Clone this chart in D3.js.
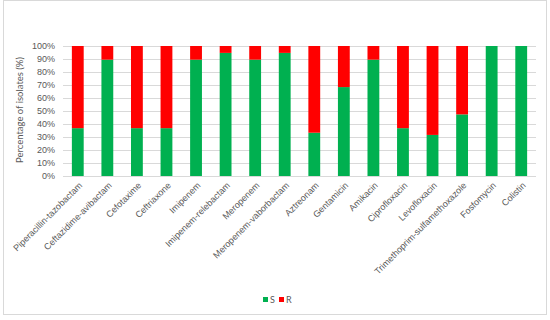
<!DOCTYPE html>
<html lang="en">
<head>
  <meta charset="UTF-8">
  <script src="https://cdn.jsdelivr.net/npm/d3@7"></script>
  <title>Susceptibility</title>
  <style>
    body { margin: 0; background: #fff; }
    svg { font-family: Lato, "Open Sans", sans-serif; }
    .grid line { stroke: #d9d9d9; stroke-width: 1; }
    .lbl { fill: #595959; }
  </style>
</head>
<body>
<div id="chart"></div>
<script>
  var drugs = ["Piperacillin-tazobactam", "Ceftazidime-avibactam", "Cefotaxime", "Ceftriaxone",
    "Imipenem", "Imipenem-relebactam", "Meropenem", "Meropenem-vaborbactam", "Aztreonam",
    "Gentamicin", "Amikacin", "Ciprofloxacin", "Levofloxacin", "Trimethoprim-sulfamethoxazole",
    "Fosfomycin", "Colistin"];
  var susceptible = [36.8, 89.5, 36.8, 36.8, 89.5, 94.7, 89.5, 94.7, 33.3, 68.4, 89.5, 36.8, 31.6, 47.4, 100, 100];
  var resistant = susceptible.map(function(s) { return 100 - s; });
  var seriesNames = ["S", "R"];
  var seriesColors = ["#00b050", "#ff0000"];
  var yTicks = [0, 10, 20, 30, 40, 50, 60, 70, 80, 90, 100];

  var W = 550, H = 320;
  var margin = {top: 46, right: 14, bottom: 144, left: 63};
  var width = W - margin.left - margin.right;
  var height = H - margin.top - margin.bottom;

  var rows = drugs.map(function(d, i) { return {drug: d, S: susceptible[i], R: resistant[i]}; });
  var stacked = d3.stack().keys(seriesNames)(rows);

  var svg = d3.select("#chart").append("svg")
    .attr("width", W)
    .attr("height", H);

  // chart border
  svg.append("rect")
    .attr("x", 3.5).attr("y", 0.5)
    .attr("width", 543).attr("height", 314)
    .attr("fill", "none")
    .attr("stroke", "#d9d9d9");

  var g = svg.append("g")
    .attr("transform", "translate(" + margin.left + "," + margin.top + ")");

  var x = d3.scaleBand().domain(drugs).range([0, width]).paddingInner(0.6).paddingOuter(0.3);
  var y = d3.scaleLinear().domain([0, 100]).range([height, 0]);

  // gridlines
  g.append("g").attr("class", "grid")
    .selectAll("line").data(yTicks).enter().append("line")
    .attr("x1", 0).attr("x2", width)
    .attr("y1", function(d) { return Math.round(y(d)) + 0.5; })
    .attr("y2", function(d) { return Math.round(y(d)) + 0.5; });

  // y axis labels
  var yAxis = g.append("g")
    .call(d3.axisLeft(y).tickValues(yTicks).tickSize(0).tickPadding(8).tickFormat(function(d) { return d + "%"; }));
  yAxis.select(".domain").remove();
  yAxis.selectAll("text").attr("class", "lbl").style("font-size", "9px").attr("font-family", null);

  // bars
  g.selectAll(".series").data(stacked).enter().append("g")
    .attr("fill", function(d, i) { return seriesColors[i]; })
    .selectAll("rect").data(function(d) { return d; }).enter().append("rect")
    .attr("x", function(d) { return x(d.data.drug); })
    .attr("y", function(d) { return y(d[1]); })
    .attr("width", x.bandwidth())
    .attr("height", function(d) { return y(d[0]) - y(d[1]); });

  // x axis labels
  var xAxis = g.append("g")
    .attr("transform", "translate(0," + height + ")")
    .call(d3.axisBottom(x).tickSize(0).tickPadding(0));
  xAxis.select(".domain").remove();
  xAxis.selectAll("text")
    .attr("class", "lbl")
    .attr("font-family", null)
    .style("font-size", "9px")
    .style("text-anchor", "end")
    .attr("dy", null)
    .attr("y", 0)
    .attr("transform", "translate(5,10) rotate(-45)");

  // y axis title
  svg.append("text")
    .attr("class", "lbl")
    .attr("transform", "translate(23," + (margin.top + height / 2 - 1) + ") rotate(-90)")
    .style("text-anchor", "middle")
    .style("font-size", "9.5px")
    .text("Percentage of isolates (%)");

  // legend
  var leg = svg.append("g").attr("transform", "translate(263,297)");
  seriesNames.forEach(function(s, i) {
    leg.append("rect")
      .attr("x", i * 16).attr("y", 0)
      .attr("width", 5).attr("height", 5)
      .attr("fill", seriesColors[i]);
    leg.append("text")
      .attr("class", "lbl")
      .attr("x", i * 16 + 7).attr("y", 5.5)
      .style("font-size", "9px")
      .text(s);
  });
</script>
</body>
</html>
